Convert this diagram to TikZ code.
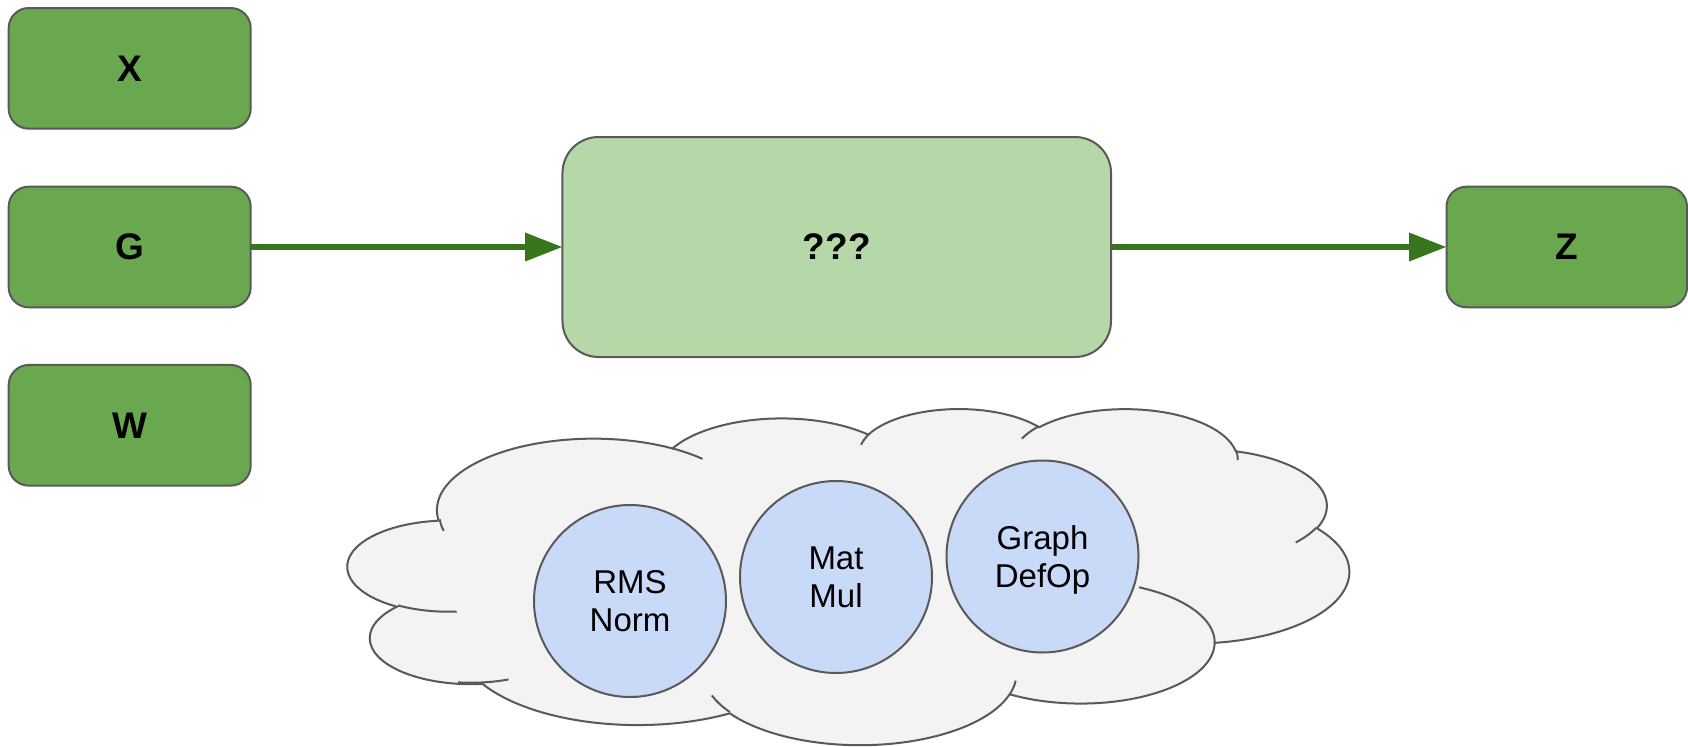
\documentclass[tikz,border=0pt]{standalone}
\usepackage{fontspec}
\setmainfont{Liberation Sans}
\usetikzlibrary{arrows.meta}
\definecolor{boxgreen}{HTML}{6AA84F}
\definecolor{opgreen}{HTML}{B6D7A8}
\definecolor{flowgreen}{HTML}{38761D}
\definecolor{edgegray}{HTML}{595959}
\definecolor{opblue}{HTML}{C9DAF8}
\definecolor{cloudgray}{HTML}{F3F3F3}
\begin{document}
\begin{tikzpicture}[x=0.75pt, y=-0.75pt,
  tensor/.style={draw=edgegray, line width=1.5pt, fill=boxgreen,
    rounded corners=15pt, minimum width=181.5pt, minimum height=90.5pt,
    inner sep=0pt, outer sep=0pt,
    font=\fontsize{27.75pt}{33pt}\selectfont\bfseries},
  opbox/.style={draw=edgegray, line width=1.5pt, fill=opgreen,
    rounded corners=27pt, minimum width=411.4pt, minimum height=165pt,
    inner sep=0pt, outer sep=0pt,
    font=\fontsize{27.75pt}{33pt}\selectfont\bfseries},
  kernel/.style={circle, draw=edgegray, line width=1.5pt, fill=opblue,
    minimum size=144pt, inner sep=0pt, outer sep=0pt, align=center,
    text depth=0pt, font=\fontsize{24.75pt}{28.1pt}\selectfont},
  cloudline/.style={draw=edgegray, line width=1.5pt},
  flow/.style={draw=flowgreen, line width=4.2pt,
    -{Triangle[length=28pt, width=20.5pt]}}]

\useasboundingbox (0,0) rectangle (1688,746);

% input and output tensors
\node[tensor] (x) at (129.7,68.35) {X};
\node[tensor] (g) at (129.7,247) {G};
\node[tensor] (w) at (129.7,425.3) {W};
\node[tensor, minimum width=180.4pt] (z) at (1566.75,247) {Z};

% the unknown operation
\node[opbox] (op) at (836.75,247) {???};

\draw[flow] (g) -- (op);
\draw[flow] (op) -- (z);

% cloud outline
\draw[cloudline, fill=cloudgray] (438.37,519.77)
  arc[start angle=-187.75, delta angle=128.11, x radius=156.47, y radius=71.48]
  arc[start angle=-152.05, delta angle=106.59, x radius=123.57, y radius=56.52]
  arc[start angle=-153.50, delta angle=116.17, x radius=101.14, y radius=46.24]
  arc[start angle=-139.70, delta angle=129.49, x radius=112.54, y radius=51.29]
  arc[start angle=-74.77, delta angle=97.98, x radius=123.57, y radius=56.57]
  arc[start angle=-37.52, delta angle=119.38, x radius=156.98, y radius=71.71]
  arc[start angle=0.46, delta angle=121.52, x radius=134.04, y radius=61.19]
  arc[start angle=16.84, delta angle=129.39, x radius=156.45, y radius=71.67]
  arc[start angle=58.99, delta angle=91.19, x radius=178.88, y radius=82.00]
  arc[start angle=83.31, delta angle=139.80, x radius=101.03, y radius=46.03]
  arc[start angle=120.36, delta angle=143.75, x radius=100.68, y radius=46.24]
  -- cycle;

% inner lobe strokes of the cloud
\draw[cloudline] (456.74,611.6) arc[start angle=85.55, delta angle=34.81, x radius=100.68, y radius=46.24];
\draw[cloudline] (508.53,679.44) arc[start angle=68.24, delta angle=29.14, x radius=101.03, y radius=46.03];
\draw[cloudline] (729.81,712.03) arc[start angle=146.23, delta angle=14.88, x radius=156.45, y radius=71.67];
\draw[cloudline] (1015.64,680.66) arc[start angle=5.7, delta angle=11.14, x radius=156.45, y radius=71.67];
\draw[cloudline] (1139.0,587.3) arc[start angle=-64.2, delta angle=64.66, x radius=134.04, y radius=61.19];
\draw[cloudline] (1316.5,527.4) arc[start angle=23.21, delta angle=18.10, x radius=123.57, y radius=56.57];
\draw[cloudline] (1236.0,450.2) arc[start angle=-10.21, delta angle=11.03, x radius=112.54, y radius=51.29];
\draw[cloudline] (1021.77,438.74) arc[start angle=-156.28, delta angle=16.58, x radius=112.54, y radius=51.29];
\draw[cloudline] (861.03,444.71) arc[start angle=-167.73, delta angle=14.23, x radius=101.14, y radius=46.24];
\draw[cloudline] (672.39,448.38) arc[start angle=-59.64, delta angle=13.90, x radius=156.47, y radius=71.48];
\draw[cloudline] (443.63,530.80) arc[start angle=166.61, delta angle=9.30, x radius=156.47, y radius=71.48];

% available kernels
\node[kernel] (rms) at (630,601) {RMS\\Norm};
\node[kernel] (mm) at (836,577) {Mat\\Mul};
\node[kernel] (gdo) at (1042.5,556.5) {Graph\\DefOp};
\end{tikzpicture}
\end{document}
